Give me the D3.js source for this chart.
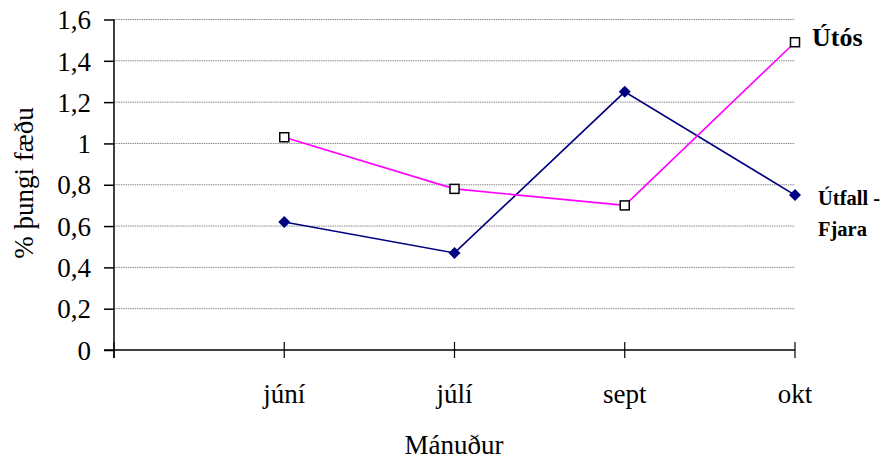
<!DOCTYPE html>
<html>
<head>
<meta charset="utf-8">
<script src="https://cdn.jsdelivr.net/npm/d3@7"></script>
<style>
  html, body { margin: 0; padding: 0; background: #fff; }
  svg { display: block; }
</style>
</head>
<body>
<svg id="chart" width="884" height="461"></svg>
<script>
// Monthly share of the diet (%), two sampling sites
const months = ["júní", "júlí", "sept", "okt"];
const utfallFjara = [0.62, 0.47, 1.25, 0.75];
const utos = [1.03, 0.78, 0.70, 1.49];
const yTicks = [0, 0.2, 0.4, 0.6, 0.8, 1.0, 1.2, 1.4, 1.6];

const serif = "'Liberation Serif', 'Times New Roman', Times, serif";
const svg = d3.select("#chart");
const plotLeft = 114, plotRight = 795, plotTop = 19.5, plotBottom = 350;

// Category axis: an empty slot at the origin, then one tick per month
const x = d3.scalePoint().domain(["", ...months]).range([plotLeft, plotRight]);
const y = d3.scaleLinear().domain([0, 1.6]).range([plotBottom, plotTop]);
const fmt = v => d3.format(".1~f")(v).replace(".", ",");

function txt(sel, size, weight) {
  return sel.style("font-family", serif).style("font-size", size + "px")
    .style("font-weight", weight || "normal").style("fill", "#000");
}

// Horizontal gridlines
svg.append("g").selectAll("line").data(yTicks.filter(d => d > 0)).join("line")
  .attr("x1", plotLeft).attr("x2", plotRight)
  .attr("y1", d => y(d)).attr("y2", d => y(d))
  .attr("stroke", "#8a8a8a").attr("stroke-width", 1)
  .attr("stroke-dasharray", "1.5,0.8");

// Y axis
const yAxis = svg.append("g").attr("transform", `translate(${plotLeft},0)`)
  .call(d3.axisLeft(y).tickValues(yTicks).tickFormat(fmt).tickSize(10).tickPadding(13));
yAxis.select(".domain").remove();
yAxis.append("line").attr("x1", 0).attr("x2", 0).attr("y1", plotTop).attr("y2", plotBottom + 8)
  .attr("stroke", "#000").attr("stroke-width", 1.5);
yAxis.selectAll(".tick line").attr("stroke", "#000").attr("stroke-width", 1.5);
txt(yAxis.selectAll(".tick text"), 27).attr("dy", "0.34em");

// X axis
const xg = svg.append("g");
xg.append("line").attr("x1", plotLeft - 10).attr("x2", plotRight).attr("y1", plotBottom).attr("y2", plotBottom)
  .attr("stroke", "#000").attr("stroke-width", 1.5);
xg.selectAll("line.xt").data(x.domain()).join("line").attr("class", "xt")
  .attr("x1", d => x(d)).attr("x2", d => x(d))
  .attr("y1", plotBottom - 8).attr("y2", plotBottom + 8)
  .attr("stroke", "#000").attr("stroke-width", 1.2);
txt(xg.selectAll("text").data(months).join("text")
  .attr("x", d => x(d)).attr("y", 403)
  .attr("text-anchor", "middle")
  .text(d => d), 27);

// Axis titles
txt(svg.append("text").attr("x", 454).attr("y", 454).attr("text-anchor", "middle")
  .text("Mánuður"), 27);
txt(svg.append("text").attr("transform", "translate(33,183) rotate(-90)")
  .attr("text-anchor", "middle").text("% þungi fæðu"), 27);

const line = d3.line().x((d, i) => x(months[i])).y(d => y(d));

// Útfall - Fjara series: navy line with diamonds
svg.append("path").datum(utfallFjara).attr("d", line)
  .attr("fill", "none").attr("stroke", "#000080").attr("stroke-width", 1.6);
svg.append("g").selectAll("path").data(utfallFjara).join("path")
  .attr("transform", (d, i) => `translate(${x(months[i])},${y(d)})`)
  .attr("d", "M0,-6L6,0L0,6L-6,0Z").attr("fill", "#000080");

// Útós series: magenta line with hollow squares
svg.append("path").datum(utos).attr("d", line)
  .attr("fill", "none").attr("stroke", "#ff00ff").attr("stroke-width", 1.6);
svg.append("g").selectAll("rect").data(utos).join("rect")
  .attr("x", (d, i) => x(months[i]) - 4.5).attr("y", d => y(d) - 4.5)
  .attr("width", 9).attr("height", 9)
  .attr("fill", "#fff").attr("stroke", "#000").attr("stroke-width", 1.5);

// Series labels at line ends
txt(svg.append("text").attr("x", 812).attr("y", 46).text("Útós"), 26, "bold");
const lab = txt(svg.append("text"), 20.5, "bold");
lab.append("tspan").attr("x", 818).attr("y", 205).text("Útfall -");
lab.append("tspan").attr("x", 818).attr("y", 236).text("Fjara");
</script>
</body>
</html>
